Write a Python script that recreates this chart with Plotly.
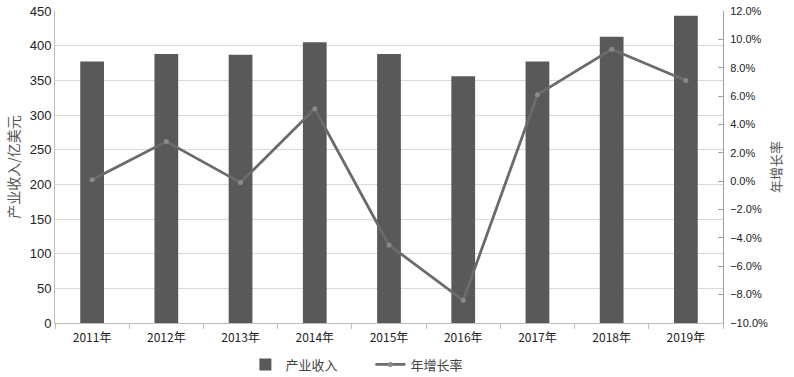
import plotly.graph_objects as go

years = ["2011年", "2012年", "2013年", "2014年", "2015年", "2016年", "2017年", "2018年", "2019年"]
revenue = [377, 388, 387, 405, 388, 356, 377, 413, 443]
growth = [0.001, 0.028, -0.001, 0.051, -0.045, -0.084, 0.061, 0.093, 0.071]

left_ticks = [0, 50, 100, 150, 200, 250, 300, 350, 400, 450]
right_ticks = [-0.10, -0.08, -0.06, -0.04, -0.02, 0.0, 0.02, 0.04, 0.06, 0.08, 0.10, 0.12]

font_num = "Liberation Sans, Arial, sans-serif"
font_cjk = "Noto Sans CJK SC, sans-serif"

fig = go.Figure()
fig.add_trace(go.Bar(
    x=years, y=revenue, name="产业收入",
    marker=dict(color="#595959", line=dict(width=0)),
    yaxis="y",
))
fig.add_trace(go.Scatter(
    x=years, y=growth, name="年增长率", mode="lines+markers",
    line=dict(color="#6b6b6b", width=2.8),
    marker=dict(color="#8a8a8a", size=5),
    yaxis="y2",
))

fig.update_layout(
    width=794, height=377,
    margin=dict(l=55, r=71, t=11, b=54, autoexpand=False),
    paper_bgcolor="white", plot_bgcolor="white",
    bargap=0.68,
    showlegend=True,
    legend=dict(orientation="h", x=0.285, xanchor="left", y=-0.085, yanchor="top",
                font=dict(family=font_cjk, size=13, color="#444"),
                entrywidth=80, entrywidthmode="pixels", itemwidth=30),
    xaxis=dict(
        type="category",
        tickfont=dict(family=font_cjk, size=12, color="#222"),
        showline=True, linecolor="#bdbdbd", linewidth=1,
        ticks="outside", tickson="boundaries", ticklen=5, tickcolor="#bdbdbd",
        ticklabelstandoff=4,
        showgrid=False,
    ),
    yaxis=dict(
        range=[0, 450], tickvals=left_ticks,
        tickfont=dict(family=font_num, size=13, color="#222"),
        showline=True, linecolor="#bdbdbd", linewidth=1,
        showgrid=True, gridcolor="#d9d9d9", gridwidth=1,
        zeroline=False,
        title=dict(text="产业收入/亿美元", font=dict(family=font_cjk, size=14, color="#555"), standoff=6),
    ),
    yaxis2=dict(
        range=[-0.10, 0.12], tickvals=right_ticks, tickformat=".1%",
        overlaying="y", side="right",
        tickfont=dict(family=font_num, size=11, color="#222"),
        showline=True, linecolor="#9e9e9e", linewidth=1,
        ticks="inside", ticklen=5, tickcolor="#9e9e9e",
        ticklabelstandoff=4,
        showgrid=False, zeroline=False,
        title=dict(text="年增长率", font=dict(family=font_cjk, size=13, color="#555"), standoff=4),
    ),
)

fig.write_html("out.html")
